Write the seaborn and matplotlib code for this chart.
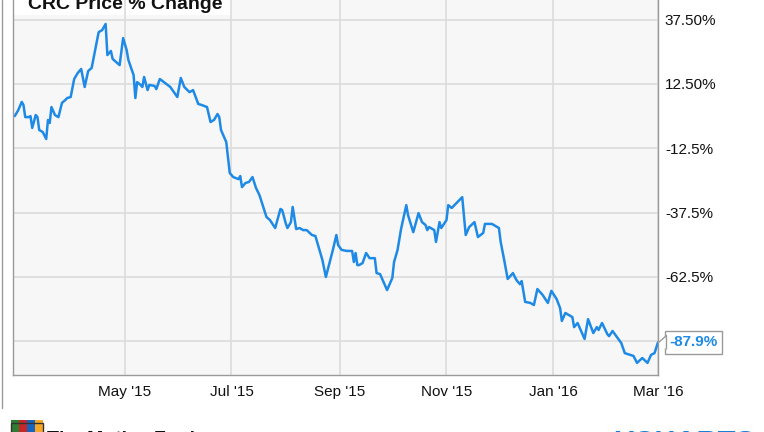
import pandas as pd
import matplotlib.pyplot as plt
import matplotlib.transforms as mtransforms
from matplotlib.patches import Rectangle
from matplotlib.lines import Line2D
import seaborn as sns

# CRC price % change (Feb 2015 - Mar 2016)
dates = [
    '2015-02-27', '2015-03-01', '2015-03-03', '2015-03-04', '2015-03-05', '2015-03-07',
    '2015-03-08', '2015-03-09', '2015-03-11', '2015-03-12', '2015-03-13', '2015-03-15',
    '2015-03-17', '2015-03-18', '2015-03-19', '2015-03-20', '2015-03-22', '2015-03-24',
    '2015-03-26', '2015-03-28', '2015-03-29', '2015-03-31',
    '2015-04-02', '2015-04-04', '2015-04-06', '2015-04-08', '2015-04-10', '2015-04-12',
    '2015-04-16', '2015-04-18', '2015-04-20', '2015-04-21', '2015-04-23', '2015-04-24',
    '2015-04-28', '2015-04-30',
    '2015-05-02', '2015-05-03', '2015-05-06', '2015-05-07', '2015-05-08', '2015-05-10',
    '2015-05-11', '2015-05-12', '2015-05-14', '2015-05-15', '2015-05-18', '2015-05-19',
    '2015-05-21', '2015-05-27', '2015-05-31',
    '2015-06-02', '2015-06-04', '2015-06-07', '2015-06-09', '2015-06-12', '2015-06-14',
    '2015-06-17', '2015-06-19', '2015-06-21', '2015-06-23', '2015-06-24', '2015-06-25',
    '2015-06-28', '2015-06-30',
    '2015-07-02', '2015-07-05', '2015-07-06', '2015-07-07', '2015-07-09', '2015-07-11',
    '2015-07-13', '2015-07-15', '2015-07-17', '2015-07-21', '2015-07-23', '2015-07-26',
    '2015-07-29', '2015-07-30',
    '2015-08-01', '2015-08-02', '2015-08-04', '2015-08-05', '2015-08-07', '2015-08-09',
    '2015-08-11', '2015-08-13', '2015-08-16', '2015-08-18', '2015-08-22', '2015-08-24',
    '2015-08-28', '2015-08-30', '2015-08-31',
    '2015-09-02', '2015-09-05', '2015-09-08', '2015-09-09', '2015-09-10', '2015-09-11',
    '2015-09-12', '2015-09-14', '2015-09-16', '2015-09-18', '2015-09-21', '2015-09-22',
    '2015-09-24', '2015-09-28',
    '2015-10-01', '2015-10-02', '2015-10-04', '2015-10-06', '2015-10-09', '2015-10-10',
    '2015-10-13', '2015-10-16', '2015-10-18', '2015-10-20', '2015-10-21', '2015-10-22',
    '2015-10-24', '2015-10-25', '2015-10-26', '2015-10-28', '2015-10-29',
    '2015-11-01', '2015-11-02', '2015-11-04', '2015-11-10', '2015-11-12', '2015-11-14',
    '2015-11-17', '2015-11-19', '2015-11-22', '2015-11-23', '2015-11-27', '2015-11-30',
    '2015-12-01', '2015-12-02', '2015-12-04', '2015-12-06', '2015-12-09', '2015-12-11',
    '2015-12-13', '2015-12-14', '2015-12-16', '2015-12-19', '2015-12-21', '2015-12-23',
    '2015-12-26', '2015-12-29', '2015-12-31',
    '2016-01-03', '2016-01-05', '2016-01-06', '2016-01-08', '2016-01-12', '2016-01-13',
    '2016-01-15', '2016-01-19', '2016-01-21', '2016-01-24', '2016-01-26', '2016-01-27',
    '2016-01-29',
    '2016-02-01', '2016-02-02', '2016-02-04', '2016-02-09', '2016-02-11', '2016-02-16',
    '2016-02-18', '2016-02-21', '2016-02-24', '2016-02-26', '2016-02-28',
    '2016-03-01',
]
pct_change = [
    0.0, 2.3, 5.5, 4.3, -0.4, -0.4,
    0.0, -4.6, 0.4, -0.4, -5.4, -6.2,
    -8.9, -1.5, -2.7, 3.5, 0.4, -0.4,
    5.1, 6.3, 7.0, 7.4,
    14.4, 16.7, 18.3, 11.3, 17.5, 18.7,
    32.6, 33.4, 35.8, 23.7, 25.3, 22.2,
    19.8, 30.3,
    25.7, 21.8, 15.9, 7.0, 13.2, 12.1,
    11.3, 15.2, 10.1, 12.1, 11.7, 10.5,
    14.4, 11.3, 7.4,
    14.8, 11.3, 9.3, 10.1, 4.7, 4.3,
    3.5, -2.3, -1.5, 0.8, -0.4, -5.4,
    -10.1, -22.1,
    -23.7, -24.5, -23.3, -27.6, -26.0, -25.6,
    -23.7, -27.9, -30.7, -39.2, -40.4, -43.5,
    -36.1, -36.5,
    -41.6, -43.5, -41.2, -35.3, -43.9, -43.5,
    -44.3, -44.3, -46.2, -46.6, -55.9, -62.5,
    -52.0, -46.2, -50.1,
    -52.0, -52.4, -52.4, -56.7, -53.2, -57.9,
    -57.9, -57.1, -53.2, -55.2, -55.2, -61.0,
    -61.4, -67.6,
    -62.9, -56.7, -52.0, -43.9, -34.6, -38.5,
    -45.1, -37.7, -41.2, -42.3, -44.3, -43.1,
    -43.9, -44.3, -48.9, -41.2, -43.5,
    -40.4, -34.6, -35.7, -31.5, -46.2, -43.1,
    -41.2, -47.0, -45.4, -41.9, -41.9, -43.1,
    -43.5, -48.9, -55.9, -63.3, -61.0, -63.7,
    -65.3, -64.1, -72.2, -72.6, -73.4, -67.2,
    -69.5, -72.6, -67.9,
    -71.1, -74.6, -79.6, -76.5, -78.1, -82.0,
    -80.4, -86.6, -78.9, -84.3, -82.0, -83.1,
    -80.4,
    -84.7, -85.5, -83.5, -88.2, -92.1, -93.2,
    -95.9, -94.0, -95.9, -92.8, -92.1,
    -87.9,
]

y_ticks = [37.5, 12.5, -12.5, -37.5, -62.5, -87.5]
y_tick_labels = ['37.50%', '12.50%', '-12.5%', '-37.5%', '-62.5%', '']
x_ticks = ['2015-05-01', '2015-07-01', '2015-09-01', '2015-11-01', '2016-01-01', '2016-03-01']
x_tick_labels = ["May '15", "Jul '15", "Sep '15", "Nov '15", "Jan '16", "Mar '16"]

df = pd.DataFrame({'date': pd.to_datetime(dates), 'change': pct_change})

sns.set_style('whitegrid', {'axes.facecolor': '#f7f7f7', 'grid.color': '#dcdcdc',
                            'axes.edgecolor': '#9a9a9a'})
plt.rcParams['font.family'] = ['Liberation Sans', 'DejaVu Sans']

line_blue = '#1e8ae6'

fig = plt.figure(figsize=(7.64, 4.32), dpi=100)
ax = fig.add_axes([13 / 764, 57 / 432, 645 / 764, 375 / 432])

sns.lineplot(data=df, x='date', y='change', ax=ax, color=line_blue, linewidth=1.8)

ax.set_xlim(pd.Timestamp('2015-02-26'), pd.Timestamp('2016-03-01'))
ax.set_ylim(-100.6, 45.1)

ax.set_xticks(pd.to_datetime(x_ticks))
ax.set_xticklabels(x_tick_labels, fontsize=11)
ax.yaxis.tick_right()
ax.set_yticks(y_ticks)
ax.set_yticklabels(y_tick_labels, fontsize=11)
ax.tick_params(axis='both', length=0, colors='#111111')
ax.tick_params(axis='x', pad=7)
ax.tick_params(axis='y', pad=5)
ax.set_xlabel('')
ax.set_ylabel('')
ax.grid(True, linewidth=1.2)
ax.set_axisbelow(True)
for side in ['left', 'right', 'bottom']:
    ax.spines[side].set_linewidth(1.0)
ax.spines['top'].set_visible(False)

# white title strip at the top-left (gridlines show through it)
ax.add_patch(Rectangle((0, 0.96), 0.34, 0.05, transform=ax.transAxes,
                       facecolor='white', edgecolor='none', zorder=0.4, clip_on=False))
fig.text(28 / 764, 1 - 9 / 432, 'CRC Price % Change', fontsize=14, fontweight='bold',
         va='baseline', ha='left', color='#111111')

# end-value callout with a notch pointing at the last point
last = df.iloc[-1]
ax.annotate(f"{last['change']:.1f}%", xy=(1.0, last['change']),
            xycoords=('axes fraction', 'data'), xytext=(8.3, 0), textcoords='offset points',
            va='center', ha='left', fontsize=11, fontweight='bold', color=line_blue,
            bbox=dict(boxstyle='square,pad=0.3', facecolor='white', edgecolor='#9a9a9a'),
            zorder=4, annotation_clip=False)
notch_tr = mtransforms.offset_copy(ax.transData, fig=fig, x=4, y=0, units='dots')
ax.plot([last['date']], [last['change']], marker=[(-1, 0), (1, 1.75), (1, -1.75)],
        markersize=10, color='white', markeredgecolor='#9a9a9a', markeredgewidth=1.0,
        clip_on=False, zorder=5, transform=notch_tr)

# outer frame line and footer branding (cut off at the bottom)
fig.add_artist(Line2D([2 / 764, 2 / 764], [24 / 432, 1], color='#9a9a9a', linewidth=1.0))
logo_colors = ['#2e7d32', '#c62828', '#1565c0', '#f9a825']
for i, c in enumerate(logo_colors):
    fig.add_artist(Rectangle(((11 + i * 8) / 764, 0), 8 / 764, 12 / 432,
                             transform=fig.transFigure, facecolor=c, edgecolor='none'))
fig.add_artist(Rectangle((11 / 764, -0.01), 32 / 764, 13 / 432, transform=fig.transFigure,
                         facecolor='none', edgecolor='#333333', linewidth=1.0))
fig.text(47 / 764, 1 - 431 / 432, 'The Motley Fool', fontsize=14, fontweight='bold',
         va='top', ha='left', color='#111111')
fig.text(615 / 764, 1 - 429 / 432, 'YCHARTS', fontsize=21, fontweight='bold',
         va='top', ha='left', color='#1a7fd6')

fig.savefig('out.png', dpi=100)
